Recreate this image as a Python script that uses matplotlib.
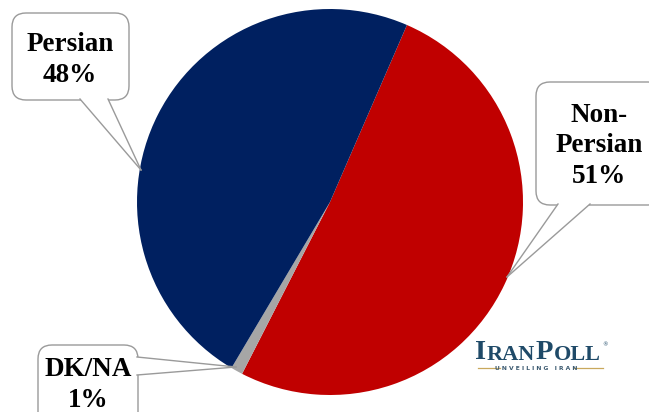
import matplotlib
matplotlib.use("Agg")
import matplotlib.pyplot as plt
from matplotlib.patches import FancyBboxPatch, Polygon

# Survey shares
categories = ["Non-Persian", "DK/NA", "Persian"]
shares = [51, 1, 48]
colors = ["#C00000", "#A6A6A6", "#002060"]
labels = ["Non-\nPersian\n51%", "DK/NA\n1%", "Persian\n48%"]

W, H = 649, 412
fig = plt.figure(figsize=(W / 100, H / 100), dpi=100)
ax = fig.add_axes([0, 0, 1, 1])


def py(y):
    """Convert a top-down pixel row to the axes' bottom-up coordinate."""
    return H - y


ax.pie(shares, colors=colors, startangle=66.5, counterclock=False,
       center=(330, py(202)), radius=193, frame=True,
       wedgeprops=dict(linewidth=0))
ax.set_xlim(0, W)
ax.set_ylim(0, H)
ax.set_aspect("equal")
ax.axis("off")

EDGE = "#9A9A9A"
FONT = dict(family="Liberation Serif", weight="bold", fontsize=19.5,
            color="black", ha="center", va="baseline", linespacing=1.3)


def callout(x0, y0, x1, y1, base_a, base_b, tip, text, text_xy):
    box = FancyBboxPatch((x0, py(y1)), x1 - x0, y1 - y0,
                         boxstyle="round,pad=0,rounding_size=14",
                         facecolor="white", edgecolor=EDGE, linewidth=1.0,
                         zorder=5)
    ax.add_patch(box)
    a = (base_a[0], py(base_a[1]))
    b = (base_b[0], py(base_b[1]))
    t = (tip[0], py(tip[1]))
    ax.add_patch(Polygon([a, b, t], closed=True, facecolor="white",
                         edgecolor="none", zorder=6))
    ax.plot([a[0], t[0]], [a[1], t[1]], color=EDGE, lw=1.0, zorder=7)
    ax.plot([b[0], t[0]], [b[1], t[1]], color=EDGE, lw=1.0, zorder=7)
    # text_xy gives the baseline of the last line
    ax.text(text_xy[0], py(text_xy[1]), text, zorder=8, **FONT)


# Persian
callout(12, 13, 129, 100, (80, 99), (108, 99), (141, 170),
        labels[2], (70, 82))
# Non-Persian
callout(536, 82, 662, 205, (558, 204), (590, 204), (507, 277),
        labels[0], (599, 183))
# DK/NA
callout(38, 345, 138, 430, (137, 357), (137, 375), (236, 367),
        labels[1], (88, 407))

# Logo: large initials with small-cap letters, set one after another
LOGO = "#1F4A68"
pieces = [("I", 20.5), ("RAN", 16), ("P", 20.5), ("OLL", 16)]
prev = ax.text(475, py(359), pieces[0][0], family="Liberation Serif",
               fontsize=pieces[0][1], weight="bold", color=LOGO,
               ha="left", va="baseline", zorder=8)
for word, size in pieces[1:]:
    prev = ax.annotate(word, xy=(1, 0), xycoords=prev,
                       xytext=(0.4, 0), textcoords="offset points",
                       family="Liberation Serif", fontsize=size,
                       weight="bold", color=LOGO, ha="left",
                       va="bottom", zorder=8)
ax.text(602, py(345), "®", family="DejaVu Sans", fontsize=4, color=LOGO,
        ha="left", va="center")
ax.text(536, py(368.5), "U N V E I L I N G   I R A N", family="DejaVu Sans",
        fontsize=4.3, weight="bold", color="#3C5A70", ha="center",
        va="center")
GOLD = "#C9A85C"
ax.plot([478, 500], [py(368), py(368)], color=GOLD, lw=0.9)
ax.plot([574, 603], [py(368), py(368)], color=GOLD, lw=0.9)

fig.savefig("out.png", dpi=100)
